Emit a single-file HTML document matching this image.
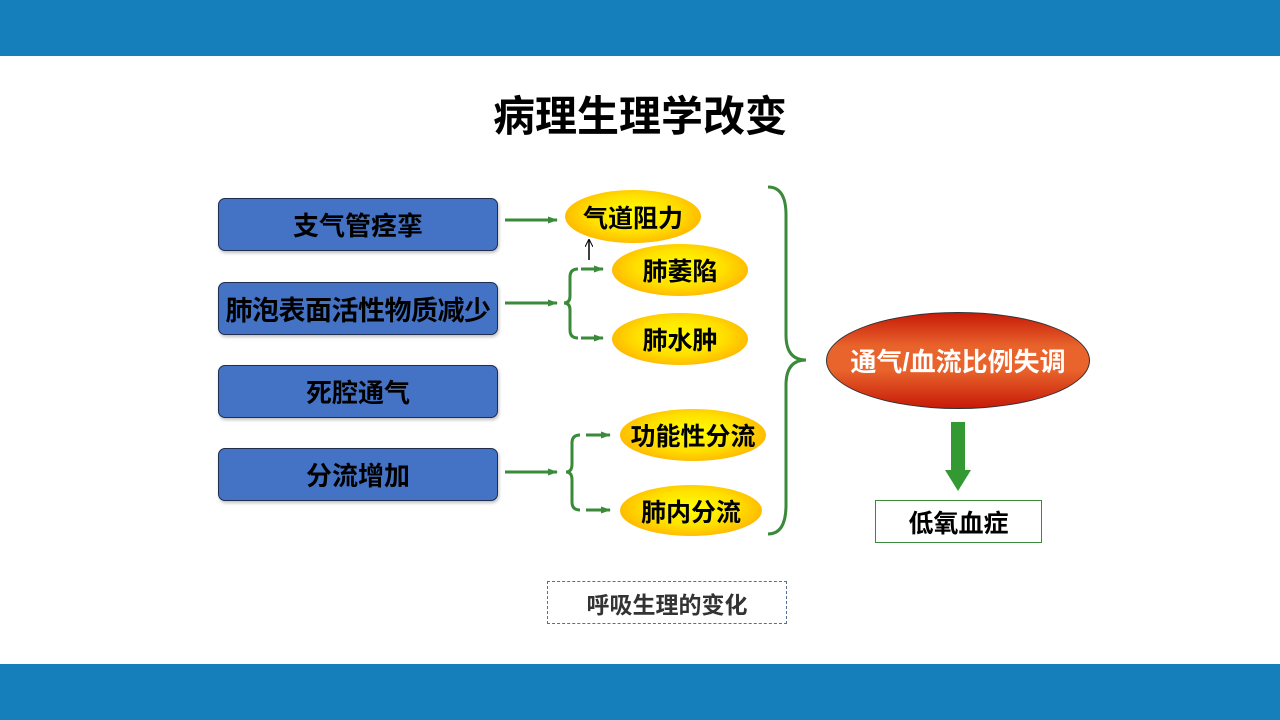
<!DOCTYPE html>
<html><head><meta charset="utf-8"><style>
body{margin:0;width:1280px;height:720px;position:relative;background:#fff;font-family:"Liberation Sans","Noto Sans CJK SC",sans-serif;overflow:hidden}
.bar{position:absolute;left:0;width:1280px;height:56px;background:#147fba}
.t{position:absolute;font-weight:bold;text-align:center;display:flex;align-items:center;justify-content:center;white-space:nowrap}
.box{background:#4472c4;border:1px solid #1f2d4f;border-radius:7px;box-sizing:border-box;font-size:26px;color:#000;box-shadow:1px 2px 3px rgba(0,0,0,.25)}
.el{border-radius:50%;background:radial-gradient(ellipse at 50% 45%,#ffff00 0%,#ffe000 45%,#ffb000 80%,#f59a00 100%);font-size:25px;color:#000}
</style></head><body>
<div class="bar" style="top:0"></div>
<div class="bar" style="top:664px"></div>
<div class="t" style="left:0;width:1280px;top:86px;height:54px;font-size:42px">病理生理学改变</div>

<div class="t box" style="left:218px;top:198px;width:280px;height:53px">支气管痉挛</div>
<div class="t box" style="left:218px;top:282px;width:280px;height:53px;font-size:27px;letter-spacing:-0.5px">肺泡表面活性物质减少</div>
<div class="t box" style="left:218px;top:365px;width:280px;height:53px">死腔通气</div>
<div class="t box" style="left:218px;top:448px;width:280px;height:53px">分流增加</div>

<div class="t el" style="left:565px;top:190px;width:136px;height:53px">气道阻力</div>
<div class="t el" style="left:612px;top:244px;width:136px;height:52px">肺萎陷</div>
<div class="t el" style="left:612px;top:313px;width:136px;height:52px">肺水肿</div>
<div class="t el" style="left:620px;top:409px;width:146px;height:52px">功能性分流</div>
<div class="t el" style="left:620px;top:485px;width:142px;height:51px">肺内分流</div>

<div class="t" style="left:826px;top:312px;width:264px;height:97px;border-radius:50%;border:1px solid #333;box-sizing:border-box;background:linear-gradient(#c81a08 0%,#e8642c 35%,#e8642c 60%,#c81a08 100%);color:#fff;font-size:26px">通气/血流比例失调</div>

<div class="t" style="left:875px;top:500px;width:167px;height:43px;border:1px solid #3a8a3a;box-sizing:border-box;font-size:25px">低氧血症</div>
<div class="t" style="left:547px;top:581px;width:240px;height:43px;border:1px dashed #5a6f8f;box-sizing:border-box;font-size:23px;color:#333">呼吸生理的变化</div>

<svg width="1280" height="720" style="position:absolute;left:0;top:0" fill="none">
<defs><marker id="a" markerUnits="userSpaceOnUse" markerWidth="10" markerHeight="8" refX="9" refY="4" orient="auto"><path d="M0,0.5L10,4L0,7.5z" fill="#3a8a3a"/></marker>
<marker id="b" markerUnits="userSpaceOnUse" markerWidth="8" markerHeight="8" refX="7" refY="4" orient="auto"><path d="M0,0L8,4L0,8" stroke="#000" fill="none"/></marker></defs>
<g stroke="#3a8a3a" stroke-width="3">
<line x1="505" y1="220" x2="557" y2="220" marker-end="url(#a)"/>
<line x1="505" y1="303" x2="557" y2="303" marker-end="url(#a)"/>
<line x1="505" y1="472" x2="557" y2="472" marker-end="url(#a)"/>
<line x1="581" y1="269" x2="603" y2="269" marker-end="url(#a)"/>
<line x1="581" y1="338" x2="603" y2="338" marker-end="url(#a)"/>
<line x1="586" y1="435" x2="610" y2="435" marker-end="url(#a)"/>
<line x1="586" y1="510" x2="610" y2="510" marker-end="url(#a)"/>
<path d="M578,269 Q570,269 570,277 L570,296 Q570,303 564,303 Q570,303 570,310 L570,330 Q570,338 578,338"/>
<path d="M580,435 Q572,435 572,443 L572,464 Q572,472 566,472 Q572,472 572,480 L572,502 Q572,510 580,510"/>
<path d="M768,187 Q786,187 786,215 L786,335 Q786,360 806,360 Q786,360 786,385 L786,505 Q786,534 768,534"/>
</g>
<line x1="589" y1="260" x2="589" y2="240" stroke="#000" stroke-width="1.5" marker-end="url(#b)"/>
<rect x="951" y="422" width="14" height="50" fill="#339933"/>
<path d="M945,470 L971,470 L958,491z" fill="#339933"/>
</svg>
</body></html>
